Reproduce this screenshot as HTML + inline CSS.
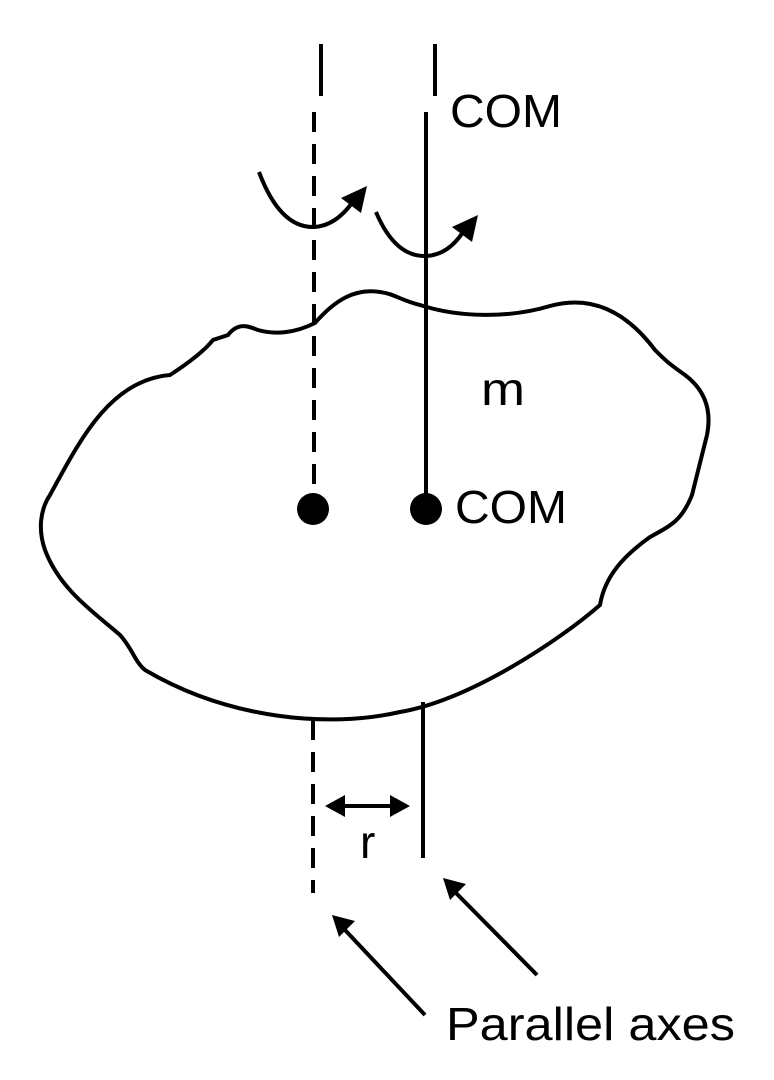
<!DOCTYPE html>
<html><head><style>
html,body{margin:0;padding:0;background:#fff;}
svg{display:block}
text{font-family:"Liberation Sans",sans-serif;fill:#000;}
</style></head><body>
<svg width="774" height="1080" viewBox="0 0 774 1080" xmlns="http://www.w3.org/2000/svg">
<g stroke="#000" stroke-width="4" fill="none">
<line x1="321" y1="44" x2="321" y2="96"/>
<line x1="435" y1="44" x2="435" y2="96"/>
<line x1="314" y1="112" x2="314" y2="495" stroke-dasharray="20,12"/>
<line x1="426" y1="112" x2="426" y2="495"/>
<path d="M259,172 Q280,228 314,227 Q335,226 352,203"/>
<path d="M376,212 Q395,257 426,256 Q448,255 463,232"/>
<path d="M228,335 C238,322 248,326 258,330 C275,335 295,333 315,323 C335,300 355,288 380,292 C395,294 400,300 420,305 C460,318 510,318 550,306 C590,295 625,310 655,350 C665,360 668,363 685,375 C705,390 712,410 707,435 L692,495 C682,520 672,525 650,537 C625,555 605,575 600,605 C560,640 470,700 400,712 C330,728 230,720 145,670 C135,662 132,648 120,635 C95,613 60,590 45,550 C38,530 40,510 50,495 C80,440 110,380 170,375 C190,362 205,350 213,340 Z" />
<line x1="313" y1="720" x2="313" y2="893" stroke-dasharray="20,12"/>
<line x1="423" y1="702" x2="423" y2="858"/>
<line x1="333" y1="806" x2="402" y2="806"/>
<line x1="425" y1="1015" x2="345" y2="930"/>
<line x1="537" y1="975" x2="456" y2="893"/>
</g>
<polygon points="367,186 361,213 341,198" fill="#000"/>
<polygon points="478,215 472,242 452,227" fill="#000"/>
<polygon points="325,806 345,795 345,817" fill="#000"/>
<polygon points="410,806 390,795 390,817" fill="#000"/>
<polygon points="332,915 355,921 339,937" fill="#000"/>
<polygon points="443,878 466,884 450,900" fill="#000"/>
<circle cx="313" cy="509" r="16" fill="#000"/>
<circle cx="426" cy="509" r="16" fill="#000"/>
<text x="450" y="127" font-size="46" textLength="112" lengthAdjust="spacingAndGlyphs">COM</text>
<text x="455" y="523" font-size="46" textLength="112" lengthAdjust="spacingAndGlyphs">COM</text>
<text x="481" y="405" font-size="46" textLength="44" lengthAdjust="spacingAndGlyphs">m</text>
<text x="360" y="858" font-size="46">r</text>
<text x="446" y="1040" font-size="46" textLength="289" lengthAdjust="spacingAndGlyphs">Parallel axes</text>
</svg>
</body></html>
